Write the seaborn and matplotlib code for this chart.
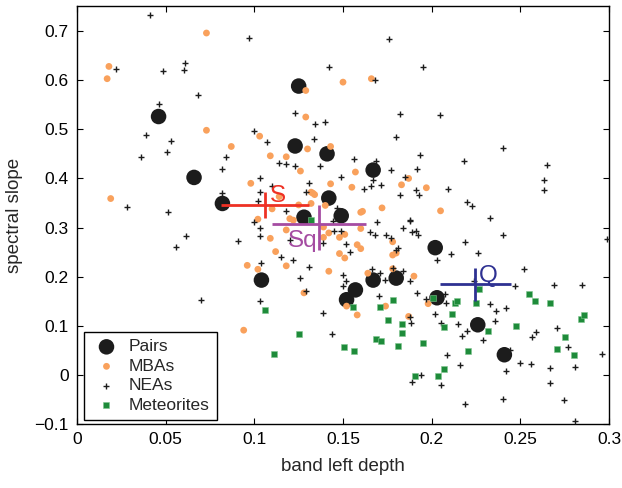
import numpy as np
import pandas as pd
import matplotlib
matplotlib.use("Agg")
import matplotlib.pyplot as plt
import seaborn as sns

# ---------------- data ----------------
pairs_x = [0.046, 0.066, 0.082, 0.104, 0.123, 0.125, 0.128, 0.141, 0.142, 0.149,
           0.152, 0.157, 0.167, 0.167, 0.180, 0.202, 0.203, 0.226, 0.241]
pairs_y = [0.526, 0.402, 0.349, 0.193, 0.466, 0.588, 0.321, 0.450, 0.360, 0.324,
           0.153, 0.173, 0.417, 0.193, 0.197, 0.259, 0.157, 0.102, 0.041]

mba_x = [0.073, 0.018, 0.017, 0.129, 0.150, 0.129, 0.073, 0.103, 0.087, 0.130,
         0.143, 0.109, 0.118, 0.126, 0.098, 0.019, 0.143, 0.133, 0.132, 0.134,
         0.114, 0.132, 0.140, 0.125, 0.110, 0.102, 0.166, 0.157, 0.155, 0.183,
         0.187, 0.197, 0.161, 0.160, 0.172, 0.205, 0.120, 0.122, 0.118, 0.109,
         0.160, 0.139, 0.142, 0.148, 0.151, 0.139, 0.112, 0.096, 0.102, 0.118,
         0.128, 0.094, 0.148, 0.151, 0.158, 0.160, 0.142, 0.178, 0.178, 0.180,
         0.164, 0.178, 0.190, 0.198, 0.152, 0.158, 0.174, 0.187]
mba_y = [0.696, 0.628, 0.603, 0.579, 0.596, 0.525, 0.498, 0.486, 0.465, 0.460,
         0.465, 0.446, 0.444, 0.415, 0.390, 0.359, 0.389, 0.370, 0.372, 0.367,
         0.363, 0.349, 0.345, 0.346, 0.338, 0.317, 0.603, 0.413, 0.382, 0.387,
         0.400, 0.381, 0.333, 0.331, 0.340, 0.334, 0.318, 0.315, 0.295, 0.278,
         0.298, 0.301, 0.289, 0.280, 0.286, 0.280, 0.251, 0.223, 0.215, 0.222,
         0.167, 0.091, 0.247, 0.238, 0.265, 0.257, 0.211, 0.271, 0.244, 0.248,
         0.207, 0.216, 0.201, 0.145, 0.140, 0.122, 0.140, 0.119]

nea_x = [0.041, 0.097, 0.022, 0.0485, 0.061, 0.0605, 0.142, 0.068, 0.046, 0.123,
         0.134, 0.140, 0.100, 0.039, 0.107, 0.1335, 0.053, 0.036, 0.051, 0.084,
         0.114, 0.118, 0.123, 0.137, 0.082, 0.149, 0.103, 0.131, 0.110, 0.082,
         0.103, 0.102, 0.129, 0.028, 0.0515, 0.118, 0.1465,
         0.176, 0.195, 0.168, 0.182, 0.2045, 0.180, 0.240, 0.1935, 0.156, 0.1685,
         0.218, 0.265, 0.177, 0.192, 0.167, 0.185, 0.2636, 0.2636, 0.162, 0.166,
         0.1716, 0.182, 0.191, 0.193, 0.209, 0.220, 0.223, 0.233, 0.188,
         0.299, 0.240, 0.219, 0.211, 0.226, 0.203, 0.252, 0.269, 0.285, 0.247,
         0.224, 0.197, 0.2076, 0.208, 0.233, 0.242, 0.236, 0.2356, 0.215, 0.220,
         0.205, 0.217, 0.229, 0.2706, 0.2587, 0.2568, 0.277, 0.2085, 0.2444, 0.250,
         0.256, 0.267, 0.281, 0.296, 0.216, 0.242, 0.194, 0.189, 0.2055, 0.267,
         0.219, 0.240, 0.2745, 0.281,
         0.150, 0.1515, 0.150, 0.1705, 0.1735, 0.171, 0.1666, 0.178, 0.184, 0.188,
         0.192, 0.1876, 0.1886, 0.1436, 0.165, 0.168, 0.174, 0.177, 0.169, 0.184,
         0.188, 0.189, 0.191, 0.1925, 0.181, 0.180, 0.1448, 0.149, 0.1515, 0.154,
         0.0615, 0.056, 0.091, 0.100, 0.103, 0.103, 0.1036, 0.070, 0.103, 0.115,
         0.122, 0.131, 0.126, 0.129, 0.139, 0.139, 0.120, 0.2019, 0.1446]
nea_y = [0.732, 0.686, 0.623, 0.619, 0.635, 0.621, 0.626, 0.569, 0.551, 0.533,
         0.510, 0.515, 0.497, 0.489, 0.475, 0.480, 0.477, 0.444, 0.453, 0.444,
         0.432, 0.429, 0.4255, 0.426, 0.419, 0.402, 0.401, 0.390, 0.385, 0.370,
         0.372, 0.353, 0.3725, 0.341, 0.332, 0.333, 0.339,
         0.684, 0.626, 0.600, 0.531, 0.529, 0.484, 0.461, 0.4485, 0.440, 0.436,
         0.436, 0.4275, 0.417, 0.419, 0.397, 0.402, 0.396, 0.377, 0.379, 0.385,
         0.387, 0.367, 0.377, 0.367, 0.378, 0.3515, 0.343, 0.320, 0.316,
         0.277, 0.284, 0.270, 0.246, 0.248, 0.234, 0.216, 0.184, 0.1825, 0.180,
         0.191, 0.154, 0.164, 0.146, 0.145, 0.1356, 0.1295, 0.109, 0.104, 0.089,
         0.106, 0.080, 0.071, 0.096, 0.087, 0.077, 0.0575, 0.040, 0.0507, 0.0236,
         0.0228, 0.014, 0.016, 0.042, 0.020, 0.0086, 0.0004, -0.0145, -0.020, -0.017,
         -0.059, -0.049, -0.051, -0.093,
         0.2035, 0.191, 0.180, 0.161, 0.193, 0.207, 0.216, 0.217, 0.212, 0.191,
         0.167, 0.117, 0.105, 0.083, 0.291, 0.284, 0.284, 0.2795, 0.311, 0.2986,
         0.314, 0.290, 0.293, 0.285, 0.258, 0.255, 0.2937, 0.2937, 0.2666, 0.251,
         0.283, 0.260, 0.272, 0.311, 0.299, 0.283, 0.227, 0.1525, 0.1505, 0.241,
         0.233, 0.220, 0.197, 0.171, 0.1255, 0.268, 0.275, 0.124, 0.313]

met_x = [0.106, 0.125, 0.111, 0.1506, 0.132, 0.1557, 0.1564, 0.171, 0.178, 0.1754,
         0.183, 0.1833, 0.1686, 0.1716, 0.1812, 0.1953, 0.1906, 0.2034, 0.207, 0.201,
         0.2113, 0.2068, 0.2132, 0.2145, 0.2266, 0.225, 0.2207, 0.2318, 0.2476, 0.2549,
         0.258, 0.2668, 0.2843, 0.2861, 0.2752, 0.2709, 0.2805]
met_y = [0.132, 0.083, 0.043, 0.057, 0.315, 0.139, 0.049, 0.139, 0.153, 0.112,
         0.104, 0.086, 0.074, 0.068, 0.059, 0.064, -0.002, -0.0016, 0.012, 0.156,
         0.123, 0.097, 0.147, 0.151, 0.1756, 0.146, 0.049, 0.089, 0.0996, 0.164,
         0.150, 0.146, 0.113, 0.122, 0.078, 0.0534, 0.041]

# taxonomic class means (center, x error, y error low/high)
cls_names = ["S", "Sq", "Q"]
cls_x = [0.106, 0.1365, 0.2245]
cls_y = [0.346, 0.307, 0.185]
cls_xerr = [0.025, 0.0265, 0.020]
cls_yerr_lo = [0.026, 0.053, 0.035]
cls_yerr_hi = [0.027, 0.039, 0.033]
cls_colors = ["#EE3124", "#A54CA2", "#2E3192"]

x_ticks = [0, 0.05, 0.1, 0.15, 0.2, 0.25, 0.3]
x_ticklabels = ["0", "0.05", "0.1", "0.15", "0.2", "0.25", "0.3"]
y_ticks = [-0.1, 0, 0.1, 0.2, 0.3, 0.4, 0.5, 0.6, 0.7]
y_ticklabels = ["\u22120.1", "0", "0.1", "0.2", "0.3", "0.4", "0.5", "0.6", "0.7"]

# ---------------- style ----------------
sns.set_style("ticks")
plt.rcParams["font.family"] = ["Liberation Sans", "DejaVu Sans"]
plt.rcParams["axes.linewidth"] = 1.0

fig = plt.figure(figsize=(6.22, 4.88), dpi=100)
ax = fig.add_axes([77 / 622, 1 - 424 / 488, (609 - 77) / 622, (424 - 6) / 488])

pairs_df = pd.DataFrame({"x": pairs_x, "y": pairs_y})
mba_df = pd.DataFrame({"x": mba_x, "y": mba_y})
nea_df = pd.DataFrame({"x": nea_x, "y": nea_y})
met_df = pd.DataFrame({"x": met_x, "y": met_y})

sns.scatterplot(data=pairs_df, x="x", y="y", ax=ax, color="#1c1c1c", s=125,
                marker="o", edgecolor="none", label="Pairs", zorder=3)
sns.scatterplot(data=mba_df, x="x", y="y", ax=ax, color="#F9A15C", s=24,
                marker="o", edgecolor="none", label="MBAs", zorder=4)
sns.scatterplot(data=nea_df, x="x", y="y", ax=ax, color="#1c1c1c", s=22,
                marker="+", linewidth=1.0, label="NEAs", zorder=5)
sns.scatterplot(data=met_df, x="x", y="y", ax=ax, color="#1E8B3A", s=20,
                marker="s", edgecolor="#7fc58f", linewidth=0.4, label="Meteorites", zorder=6)

for name, cx, cy, xe, ylo, yhi, col in zip(cls_names, cls_x, cls_y, cls_xerr,
                                          cls_yerr_lo, cls_yerr_hi, cls_colors):
    ax.errorbar([cx], [cy], xerr=[[xe], [xe]], yerr=[[ylo], [yhi]], fmt="none",
                ecolor=col, elinewidth=2.0, capsize=0, zorder=8)

ax.text(0.1089, 0.352, "S", color=cls_colors[0], fontsize=17.5, zorder=9)
ax.text(0.1192, 0.261, "Sq", color=cls_colors[1], fontsize=17.5, zorder=9)
ax.text(0.2269, 0.190, "Q", color=cls_colors[2], fontsize=17.5, zorder=9)

ax.set_xlim(0, 0.3)
ax.set_ylim(-0.1, 0.751)
ax.set_xticks(x_ticks)
ax.set_xticklabels(x_ticklabels)
ax.set_yticks(y_ticks)
ax.set_yticklabels(y_ticklabels)
ax.tick_params(direction="in", length=4, width=0.8, top=True, right=True,
               labelsize=12.5, colors="black", pad=6)
for sp in ax.spines.values():
    sp.set_visible(True)
    sp.set_color("black")

ax.set_xlabel("band left depth", fontsize=13.5, labelpad=8)
ax.set_ylabel("spectral slope", fontsize=13.5, labelpad=8)

leg = ax.legend(loc="lower left", bbox_to_anchor=(0.013, 0.01), borderaxespad=0,
                fontsize=12.5, frameon=True, fancybox=False, framealpha=1,
                edgecolor="black", labelspacing=0.25, handletextpad=0.4,
                borderpad=0.4, handlelength=1.8)
leg.get_frame().set_linewidth(1.0)

fig.savefig("out.png", dpi=100)
